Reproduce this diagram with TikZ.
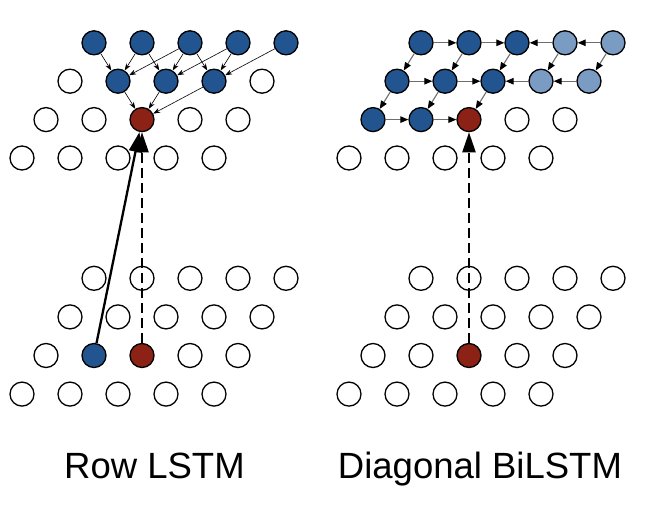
\documentclass[tikz,border=0pt]{standalone}
\usepackage{fontspec}
\setmainfont{Liberation Sans}
\usetikzlibrary{arrows.meta}
\definecolor{blueD}{RGB}{34,85,144}
\definecolor{blueL}{RGB}{122,156,194}
\definecolor{redD}{RGB}{139,34,21}
\definecolor{lineG}{RGB}{110,110,110}
\begin{document}
\begin{tikzpicture}[x=1pt,y=-1pt,
  cell/.style={circle,draw=black,line width=1.3pt,fill=white,minimum size=24pt,inner sep=0pt},
  bluecell/.style={cell,fill=blueD},
  lightcell/.style={cell,fill=blueL},
  redcell/.style={cell,fill=redD},
  thinarr/.style={line width=0.6pt,-{Stealth[length=7pt,width=5pt]}},
  grayarr/.style={draw=lineG,line width=1.1pt,-{Triangle[length=8pt,width=6.5pt,color=black]}},
  bigarr/.style={line width=2.3pt,-{Triangle[length=20pt,width=13pt]}},
  dasharr/.style={bigarr,dash pattern=on 10pt off 5pt},
  lab/.style={anchor=base,font=\fontsize{36.5}{42}\selectfont}]
\useasboundingbox (0,0) rectangle (646,504);
% Left top block
\foreach \r in {0,...,3}{\foreach \c in {0,...,4}{
  \def\s{cell}
  \ifnum\r=0 \def\s{bluecell}\fi
  \ifnum\r=1 \ifnum\c>0 \ifnum\c<4 \def\s{bluecell}\fi\fi\fi
  \ifnum\r=2 \ifnum\c=2 \def\s{redcell}\fi\fi
  \node[\s] (Lt\r\c) at ({94-24*\r+48*\c},{42.8+38.4*\r}) {};
}}
% Left bottom block
\foreach \r in {0,...,3}{\foreach \c in {0,...,4}{
  \def\s{cell}
  \ifnum\r=2 \ifnum\c=1 \def\s{bluecell}\fi\ifnum\c=2 \def\s{redcell}\fi\fi
  \node[\s] (Lb\r\c) at ({94-24*\r+48*\c},{278.3+38.6*\r}) {};
}}
% Right top block
\foreach \r in {0,...,3}{\foreach \c in {0,...,4}{
  \def\s{cell}
  \ifnum\r<2 \ifnum\c<3 \def\s{bluecell}\else\def\s{lightcell}\fi\fi
  \ifnum\r=2 \ifnum\c<2 \def\s{bluecell}\fi\ifnum\c=2 \def\s{redcell}\fi\fi
  \node[\s] (Rt\r\c) at ({421-24*\r+48*\c},{42.8+38.4*\r}) {};
}}
% Right bottom block
\foreach \r in {0,...,3}{\foreach \c in {0,...,4}{
  \def\s{cell}
  \ifnum\r=2 \ifnum\c=2 \def\s{redcell}\fi\fi
  \node[\s] (Rb\r\c) at ({421-24*\r+48*\c},{278.3+38.6*\r}) {};
}}
% Row LSTM connections
\foreach \c in {1,2,3}{
  \pgfmathtruncatemacro\cm{\c-1}
  \pgfmathtruncatemacro\cp{\c+1}
  \draw[thinarr] (Lt0\cm) -- (Lt1\c);
  \draw[thinarr] (Lt0\c) -- (Lt1\c);
  \draw[thinarr] (Lt0\cp) -- (Lt1\c);
  \draw[thinarr] (Lt1\c) -- (Lt22);
}
\draw[bigarr] (Lb21) -- (Lt22);
\draw[dasharr] (Lb22) -- (Lt22);
% Diagonal BiLSTM connections
\draw[grayarr] (Rt00) -- (Rt01);
\draw[grayarr] (Rt01) -- (Rt02);
\draw[grayarr] (Rt04) -- (Rt03);
\draw[grayarr] (Rt03) -- (Rt02);
\draw[grayarr] (Rt10) -- (Rt11);
\draw[grayarr] (Rt11) -- (Rt12);
\draw[grayarr] (Rt14) -- (Rt13);
\draw[grayarr] (Rt13) -- (Rt12);
\draw[grayarr] (Rt20) -- (Rt21);
\draw[grayarr] (Rt21) -- (Rt22);
\foreach \c in {0,...,4}{\draw[grayarr] (Rt0\c) -- (Rt1\c);}
\foreach \c in {0,1,2}{\draw[grayarr] (Rt1\c) -- (Rt2\c);}
\draw[dasharr] (Rb22) -- (Rt22);
% Labels
\node[lab] (labL) at (154.5,478) {Row LSTM};
\node[lab] (labR) at (480,478) {Diagonal BiLSTM};
\end{tikzpicture}
\end{document}
